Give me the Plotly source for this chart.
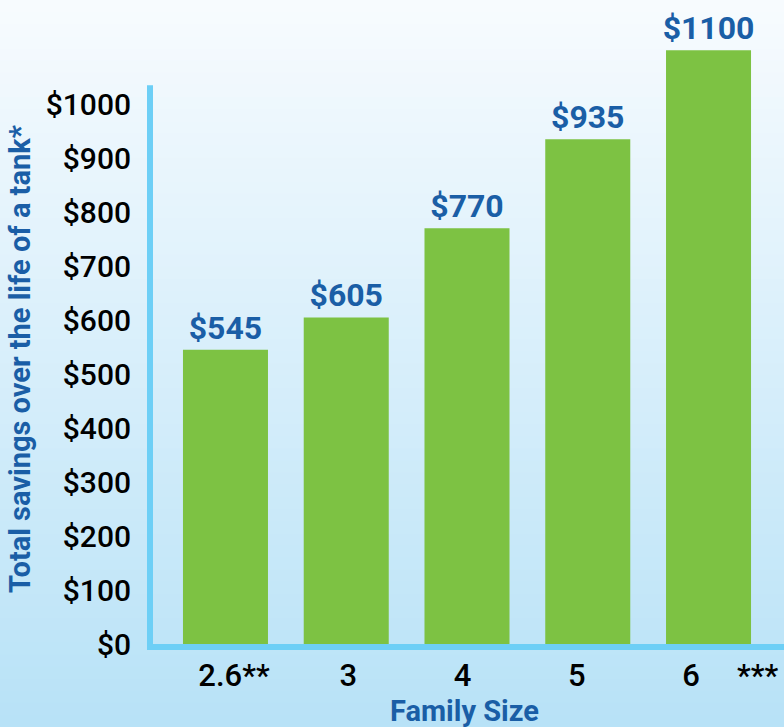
import plotly.graph_objects as go

# ---- data ----
family_sizes = ["2.6**", "3", "4", "5", "6"]
savings = [545, 605, 770, 935, 1100]
y_ticks = [0, 100, 200, 300, 400, 500, 600, 700, 800, 900, 1000]
y_tick_labels = ["$" + str(v) for v in y_ticks]
footnote_mark = "***"
y_title = "Total savings over the life of a tank*"
x_title = "Family Size"

# ---- style ----
W, H = 784, 727
ML, MR, MT, MB = 150, 0, 7, 83
PW, PH = W - ML - MR, H - MT - MB
Y_MAX = 1180
AXIS_TOP = 1035
GREEN = "#7dc243"
DARK_BLUE = "#1a5ea6"
LINE_BLUE = "#6dcff6"
FONT = "Roboto"

positions = list(range(len(family_sizes)))

fig = go.Figure()
fig.add_trace(go.Bar(
    x=positions, y=savings,
    marker=dict(color=GREEN, line=dict(width=0)),
    texttemplate="$%{y}", textposition="outside",
    textfont=dict(family=FONT, size=32, color=DARK_BLUE, weight=700),
    constraintext="none", cliponaxis=False,
    hoverinfo="skip", width=0.704,
))

# gradient background bands
top_rgb = (247, 251, 254)
bot_rgb = (184, 226, 247)
n = 60
y_lo = -MB / PH
y_hi = 1 + MT / PH
shapes = []
for i in range(n):
    t = i / (n - 1)
    c = tuple(round(top_rgb[k] + (bot_rgb[k] - top_rgb[k]) * t) for k in range(3))
    y1 = y_hi - (y_hi - y_lo) * i / n
    y0 = y_hi - (y_hi - y_lo) * (i + 1) / n
    shapes.append(dict(type="rect", xref="paper", yref="paper",
                       x0=-ML / PW, x1=1, y0=y0 - 0.002, y1=y1,
                       fillcolor="rgb(%d,%d,%d)" % c, line=dict(width=0), layer="below"))
# vertical axis line (only up to AXIS_TOP)
shapes.append(dict(type="line", xref="paper", yref="paper",
                   x0=0, x1=0, y0=-6 / PH, y1=AXIS_TOP / Y_MAX,
                   line=dict(color=LINE_BLUE, width=6), layer="above"))

# tick label axis positions
lab0 = 234
lab_step = 114.25
r0 = -(lab0 - ML) / lab_step
r1 = (W - MR - lab0) / lab_step

fig.update_layout(
    width=W, height=H,
    margin=dict(l=ML, r=MR, t=MT, b=MB, pad=0, autoexpand=False),
    paper_bgcolor="white", plot_bgcolor="rgba(0,0,0,0)",
    showlegend=False,
    bargap=0.296,
    shapes=shapes,
    xaxis=dict(range=[-0.625, len(family_sizes) - 0.375], showticklabels=False,
               showgrid=False, zeroline=False, ticks="", automargin=False,
               showline=True, linecolor=LINE_BLUE, linewidth=6),
    xaxis2=dict(overlaying="x", side="bottom", anchor="y", range=[r0, r1],
                tickvals=positions, ticktext=family_sizes, showgrid=False, zeroline=False,
                showline=False, ticks="", ticklabelstandoff=10, automargin=False,
                tickfont=dict(family=FONT, size=31, color="black", weight=500)),
    yaxis=dict(range=[0, Y_MAX], tickvals=y_ticks, ticktext=y_tick_labels,
               showgrid=False, zeroline=False, showline=False, ticks="",
               ticklabelstandoff=18, automargin=False,
               tickfont=dict(family=FONT, size=30, color="black", weight=500)),
    annotations=[
        dict(text=y_title, xref="paper", yref="paper", textangle=-90,
             x=-(ML - 20) / PW, y=(644 - 359) / PH, xanchor="center", yanchor="middle",
             showarrow=False, font=dict(family=FONT, size=29, color=DARK_BLUE, weight=700)),
        dict(text=x_title, xref="paper", yref="paper",
             x=(464 - ML) / PW, y=(644 - 711) / PH, xanchor="center", yanchor="middle",
             showarrow=False, font=dict(family=FONT, size=29, color=DARK_BLUE, weight=700)),
        dict(text=footnote_mark, xref="paper", yref="paper",
             x=(757 - ML) / PW, y=(644 - 675) / PH, xanchor="center", yanchor="middle",
             showarrow=False, font=dict(family=FONT, size=31, color="black", weight=500)),
    ],
)
# invisible trace to anchor xaxis2
fig.add_trace(go.Scatter(x=[r0], y=[0], xaxis="x2", mode="markers",
                         marker=dict(opacity=0), hoverinfo="skip"))
fig.write_html("out.html", config={"displayModeBar": False},
               post_script="document.body.style.margin='0';document.body.style.overflow='hidden';")
